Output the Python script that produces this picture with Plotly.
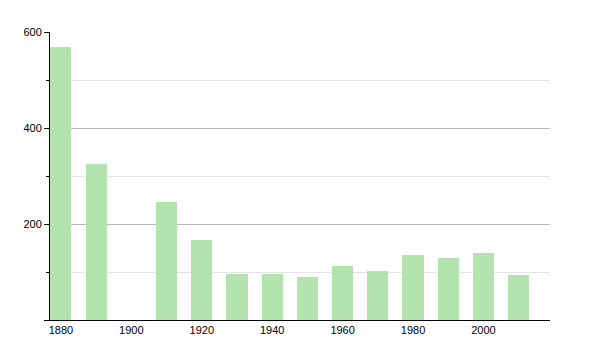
import plotly.graph_objects as go

years = [1880, 1890, 1910, 1920, 1930, 1940, 1950, 1960, 1970, 1980, 1990, 2000, 2010]
population = [568, 326, 246, 167, 96, 95, 89, 112, 102, 135, 129, 140, 94]
x_ticks = [1880, 1900, 1920, 1940, 1960, 1980, 2000]
y_ticks = [0, 200, 400, 600]

fig = go.Figure()
fig.add_trace(go.Bar(x=years, y=population, width=6,
                     marker=dict(color='#b3e4ae', line=dict(width=0))))

fig.update_layout(
    width=600, height=350,
    margin=dict(l=50, r=50, t=32, b=30),
    paper_bgcolor='white', plot_bgcolor='white',
    font=dict(family='Liberation Sans, Arial, sans-serif', size=11, color='#000'),
    showlegend=False,
    bargap=0,
)
fig.update_xaxes(range=[1876.9, 2018.9], tickvals=x_ticks, ticktext=[str(v) for v in x_ticks],
                 showgrid=False, showline=True, linecolor='#000', linewidth=1,
                 ticks='', zeroline=False, tickfont=dict(size=11))
fig.update_yaxes(range=[0, 600], tickvals=y_ticks, ticktext=['', '200', '400', '600'],
                 showgrid=True, gridcolor='#b8b8b8', gridwidth=1,
                 showline=True, linecolor='#000', linewidth=1,
                 ticks='outside', ticklen=5, tickcolor='#000',
                 minor=dict(tickvals=[100, 300, 500], showgrid=True, gridcolor='#e4e4e4',
                            ticks='outside', ticklen=3, tickcolor='#000'),
                 zeroline=False, tickfont=dict(size=11))

fig.write_html("out.html")
